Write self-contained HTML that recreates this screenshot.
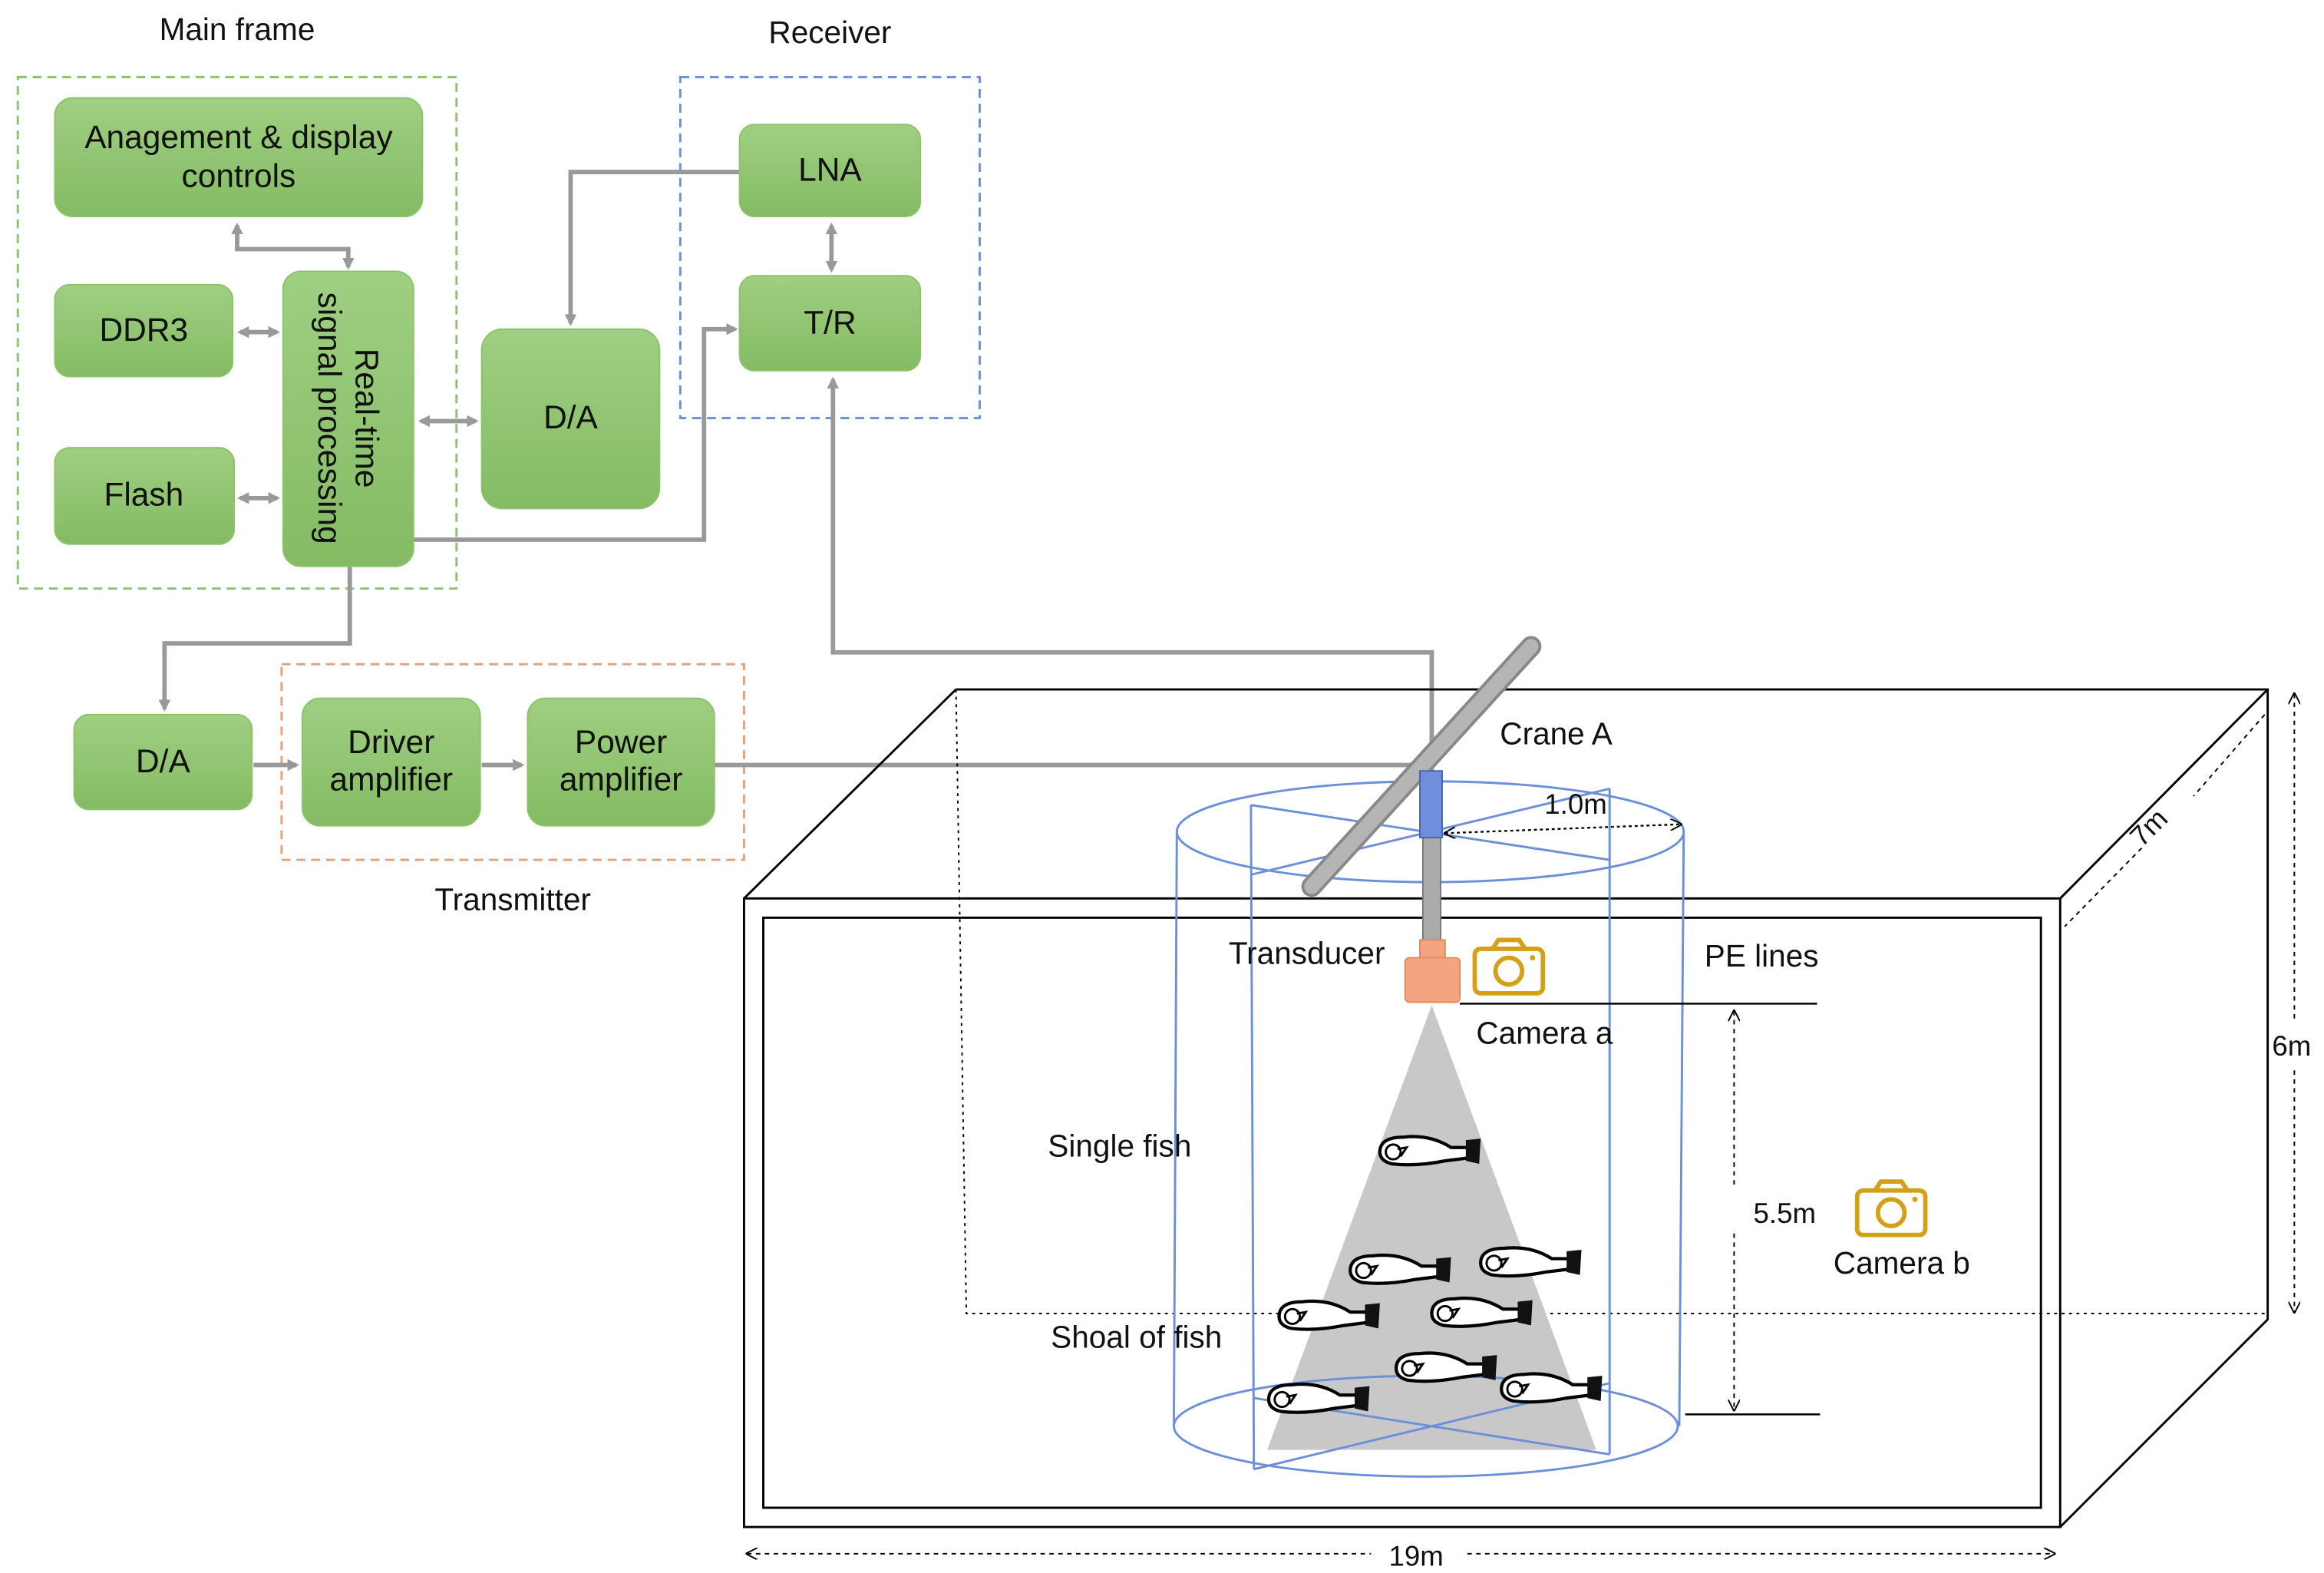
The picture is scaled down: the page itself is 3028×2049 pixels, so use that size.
<!DOCTYPE html>
<html><head><meta charset="utf-8"><style>
html,body{margin:0;padding:0;background:#fff;}
svg{display:block;}
text{font-family:"Liberation Sans Narrow","Liberation Sans",sans-serif;fill:#111;}
</style></head><body>
<svg width="3028" height="2049" viewBox="0 0 1568 1061" xmlns="http://www.w3.org/2000/svg">
<defs>
<linearGradient id="g" x1="0" y1="0" x2="0" y2="1"><stop offset="0" stop-color="#9fcf82"/><stop offset="1" stop-color="#84bb63"/></linearGradient>
<marker id="a" markerWidth="8" markerHeight="8" refX="6" refY="4" orient="auto" markerUnits="userSpaceOnUse"><path d="M0,0 L8,4 L0,8 z" fill="#999"/></marker>
<marker id="as" markerWidth="8" markerHeight="8" refX="2" refY="4" orient="auto" markerUnits="userSpaceOnUse"><path d="M8,0 L0,4 L8,8 z" fill="#999"/></marker>
<marker id="k" markerWidth="8" markerHeight="8" refX="7" refY="4" orient="auto" markerUnits="userSpaceOnUse"><path d="M0,0 L8,4 L0,8" fill="none" stroke="#000"/></marker>
<marker id="ks" markerWidth="8" markerHeight="8" refX="1" refY="4" orient="auto" markerUnits="userSpaceOnUse"><path d="M8,0 L0,4 L8,8" fill="none" stroke="#000"/></marker>
<g id="fish"><path d="M-34,0 Q-34,-10 -18,-10 Q0,-12 14,-3 L26,-3 L26,4 L10,6 Q-10,10 -26,8 Q-34,6 -34,0 z" fill="#fff" stroke="#000" stroke-width="2.2"/><path d="M24,-8 L34,-9 L33,8 L24,6 z" fill="#111"/><circle cx="-25" cy="0" r="5" fill="none" stroke="#000" stroke-width="1.5"/><path d="M-22,-2 L-16,-3 L-20,3" fill="none" stroke="#000" stroke-width="1.5"/></g>
<g id="cam"><rect x="0" y="6" width="46" height="30" rx="4" fill="none" stroke="#d4a017" stroke-width="3"/><path d="M12,6 L16,0 L30,0 L34,6" fill="none" stroke="#d4a017" stroke-width="3"/><circle cx="23" cy="21" r="9" fill="none" stroke="#d4a017" stroke-width="3"/><circle cx="39" cy="12" r="1.8" fill="#d4a017"/></g>
</defs>

<rect x="12" y="52" width="296" height="345" fill="none" stroke="#8cc26a" stroke-width="1.5" stroke-dasharray="6,4"/>
<rect x="459" y="52" width="202" height="230" fill="none" stroke="#6b8fd8" stroke-width="1.5" stroke-dasharray="6,4"/>
<rect x="190" y="448" width="312" height="132" fill="none" stroke="#e8a070" stroke-width="1.5" stroke-dasharray="6,4"/>
<text x="160" y="27" font-size="21" text-anchor="middle">Main frame</text>
<text x="560" y="29" font-size="21" text-anchor="middle">Receiver</text>
<text x="346" y="614" font-size="21" text-anchor="middle">Transmitter</text>

<g stroke="#999" stroke-width="3" fill="none">
<path d="M160,152 V168 H235 V180" marker-start="url(#as)" marker-end="url(#a)"/>
<path d="M162,224 H187" marker-start="url(#as)" marker-end="url(#a)"/>
<path d="M162,336 H187" marker-start="url(#as)" marker-end="url(#a)"/>
<path d="M284,284 H321" marker-start="url(#as)" marker-end="url(#a)"/>
<path d="M499,116 H385 V218" marker-end="url(#a)"/>
<path d="M279,364 H475 V222 H496" marker-end="url(#a)"/>
<path d="M561,152 V182" marker-start="url(#as)" marker-end="url(#a)"/>
<path d="M236,382 V434 H111 V478" marker-end="url(#a)"/>
<path d="M171,516 H200" marker-end="url(#a)"/>
<path d="M325,516 H352" marker-end="url(#a)"/>
<path d="M482,516 H962"/>
<path d="M966,520 V440 H562 V256" marker-end="url(#a)"/>
</g>

<g fill="url(#g)" stroke="#8cc26a">
<rect x="37" y="66" width="248" height="80" rx="12"/>
<rect x="37" y="192" width="120" height="62" rx="10"/>
<rect x="37" y="302" width="121" height="65" rx="10"/>
<rect x="191" y="183" width="88" height="199" rx="12"/>
<rect x="325" y="222" width="120" height="121" rx="14"/>
<rect x="499" y="84" width="122" height="62" rx="10"/>
<rect x="499" y="186" width="122" height="64" rx="10"/>
<rect x="50" y="482" width="120" height="64" rx="10"/>
<rect x="204" y="471" width="120" height="86" rx="12"/>
<rect x="356" y="471" width="126" height="86" rx="12"/>
</g>
<g font-size="22" text-anchor="middle">
<text x="161" y="100">Anagement &amp; display</text>
<text x="161" y="126">controls</text>
<text x="97" y="230">DDR3</text>
<text x="97" y="341">Flash</text>
<text transform="translate(235,282) rotate(90)"><tspan x="0" y="-5">Real-time</tspan><tspan x="0" y="20">signal processing</tspan></text>
<text x="385" y="289">D/A</text>
<text x="560" y="122">LNA</text>
<text x="560" y="225">T/R</text>
<text x="110" y="521">D/A</text>
<text x="264" y="508">Driver</text>
<text x="264" y="533">amplifier</text>
<text x="419" y="508">Power</text>
<text x="419" y="533">amplifier</text>
</g>

<g stroke="#000" stroke-width="1.5" fill="none">
<path d="M645,465 H1530 V890 L1390,1030 M502,606 L645,465 M1390,606 L1530,465"/>
<rect x="502" y="606" width="888" height="424"/>
<rect x="515" y="619" width="862" height="398"/>
<path d="M645,465 L652,886 H1530" stroke-dasharray="2,3" stroke-width="1"/>
</g>

<path d="M966,678 L1077,978 L855,978 z" fill="#c8c8c8"/>

<g stroke="#6b8fd8" stroke-width="1.5" fill="none">
<ellipse cx="965" cy="561" rx="171" ry="34"/>
<ellipse cx="962" cy="962" rx="170" ry="34"/>
<path d="M794,561 L792,962 M1136,561 L1133,962 M844,543 L846,991 M1086,532 L1086,981 M844,543 L1086,580 M844,590 L1086,532 M846,943 L1086,981 M846,991 L1086,933"/>
</g>

<use href="#fish" x="965" y="777"/>
<use href="#fish" x="945" y="857"/>
<use href="#fish" x="1033" y="852"/>
<use href="#fish" x="897" y="888"/>
<use href="#fish" x="1000" y="886"/>
<use href="#fish" x="976" y="923"/>
<use href="#fish" x="890" y="944"/>
<use href="#fish" x="1047" y="937"/>

<path d="M885,598 L1033,436" stroke="#888" stroke-width="14" stroke-linecap="round"/>
<path d="M885,598 L1033,436" stroke="#b5b5b5" stroke-width="10" stroke-linecap="round"/>
<rect x="960" y="560" width="12" height="76" fill="#aaa" stroke="#777"/>
<rect x="958" y="520" width="15" height="45" fill="#6f8fdc" stroke="#4466b0"/>
<rect x="958" y="634" width="17" height="14" fill="#f4a57f" stroke="#e08a60"/>
<rect x="948" y="646" width="37" height="30" rx="3" fill="#f4a57f" stroke="#e08a60"/>

<use href="#cam" x="995" y="634"/>
<use href="#cam" x="1253" y="797"/>

<g stroke="#000" stroke-width="1.3" fill="none">
<path d="M985,677 H1226 M1137,954 H1228"/>
<path d="M1170,682 V800 M1170,832 V951" marker-start="url(#ks)" marker-end="url(#k)" stroke-dasharray="3,3" stroke-width="1"/>
<path d="M1548,468 V690 M1548,722 V885" stroke-dasharray="3,3" stroke-width="1" marker-start="url(#ks)" marker-end="url(#k)"/>
<path d="M1528,482 L1480,537 M1445,572 L1393,625" stroke-dasharray="3,3" stroke-width="1"/>
<path d="M504,1048 H925 M990,1048 H1386" stroke-dasharray="3,3" stroke-width="1" marker-start="url(#ks)" marker-end="url(#k)"/>
<path d="M975,562 L1134,556" stroke-dasharray="2,2" stroke-width="1.2" marker-start="url(#ks)" marker-end="url(#k)"/>
</g>

<g font-size="21">
<text x="1012" y="502">Crane A</text>
<text x="1042" y="549" font-size="19">1.0m</text>
<text x="829" y="650">Transducer</text>
<text x="1150" y="652">PE lines</text>
<text x="996" y="704">Camera a</text>
<text x="707" y="780">Single fish</text>
<text x="1183" y="825" font-size="19">5.5m</text>
<text x="1237" y="859">Camera b</text>
<text x="709" y="909">Shoal of fish</text>
<text x="1533" y="712" font-size="19">6m</text>
<text x="937" y="1056" font-size="19">19m</text>
<text transform="translate(1445,572) rotate(-45)" font-size="19">7m</text>
</g>
</svg>
</body></html>
